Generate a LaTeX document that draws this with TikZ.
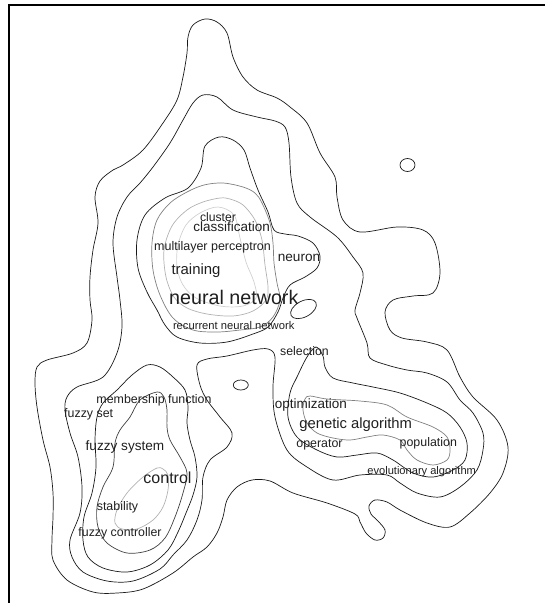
\documentclass[tikz,border=0pt]{standalone}
\usepackage{fontspec}
\setmainfont{Liberation Sans}
\usepackage{tikz}
\tikzstyle{outerline} = [line width=0.7pt, black!90]
\tikzstyle{midline} = [line width=0.7pt, black!75]
\tikzstyle{grayline} = [line width=0.7pt, black!50]
\tikzstyle{lightline} = [line width=0.7pt, black!30]
\tikzstyle{paleline} = [line width=0.7pt, black!18]
\tikzstyle{keyword} = [inner sep=0pt, anchor=base, text=black!88]
\newcommand{\kwsize}[1]{\fontsize{#1}{#1}\selectfont}

\begin{document}
\begin{tikzpicture}[x=1pt, y=-1pt]
      \useasboundingbox (0,0) rectangle (545,603);

      % Frame
      \draw[line width=2.2pt] (9,603) -- (9,5) -- (545,5);

      % Outermost density level
      \draw[outerline] plot[smooth cycle, tension=0.55] coordinates {
        (205,19) (217,22) (227,33) (233,57) (243,77) (257,90) (277,98) (290,107)
        (307,123) (320,153) (335,177) (337,197) (343,220) (360,232) (397,227)
        (423,230) (435,243) (440,273) (433,293) (413,296) (393,300) (385,312)
        (390,330) (402,338) (427,342) (447,350) (460,377) (473,397) (497,420)
        (508,447) (503,473) (490,493) (470,513) (450,527) (427,523) (400,510)
        (387,502) (375,500) (369,506) (371,514) (378,521) (385,530) (383,538)
        (375,540) (366,533) (360,522) (355,514) (327,503) (293,493) (270,481)
        (252,480) (237,487) (227,500) (223,517) (217,533) (207,547) (193,557)
        (173,573) (143,589) (117,593) (93,592) (67,580) (53,560) (52,540)
        (53,517) (53,493) (50,467) (43,440) (37,407) (35,383) (37,367) (47,360)
        (73,353) (87,343) (92,320) (90,300) (90,277) (93,250) (98,223) (95,197)
        (100,181) (113,170) (123,165) (143,150) (163,123) (177,100) (183,77)
        (187,53) (188,37) (193,25)};
      \draw[outerline] (407.5,165) ellipse[x radius=7.5, y radius=6.5];
      \draw[outerline] (240.8,385) ellipse[x radius=7.5, y radius=5];

      % Second level, around all three clusters
      \draw[outerline] plot[smooth cycle, tension=0.55] coordinates {
        (203,95) (217,97) (233,110) (257,117) (275,121) (285,127) (289,143)
        (291,177) (297,203) (310,217) (337,237) (353,257) (363,273) (360,293)
        (355,310) (357,318) (367,343) (370,358) (387,365) (407,370) (427,373)
        (447,382) (460,400) (473,413) (483,433) (483,450) (477,470) (460,487)
        (440,497) (417,493) (400,483) (387,475) (360,475) (333,480) (307,467)
        (287,450) (275,417) (273,387) (275,357) (268,349) (253,350) (227,356)
        (207,359) (197,365) (200,385) (207,400) (220,417) (232,433) (227,447)
        (210,460) (203,477) (202,500) (197,520) (187,540) (173,555) (160,569)
        (133,581) (107,581) (83,572) (72,557) (70,540) (80,513) (82,487)
        (78,457) (70,433) (65,410) (67,397) (77,387) (103,377) (117,353)
        (122,327) (120,300) (117,277) (113,243) (117,217) (127,197) (140,183)
        (153,167) (170,143) (183,120) (193,103)};
      \draw[outerline, rotate around={28:(303.5,309)}] (303.5,309) ellipse[x radius=14, y radius=8];

      % Neural network cluster
      \draw[outerline] plot[smooth cycle, tension=0.55] coordinates {
        (219,137) (205,146) (201,168) (188,188) (165,198) (145,215) (137,240)
        (138,268) (147,292) (157,310) (165,325) (177,337) (200,343) (227,342)
        (253,334) (268,327) (278,312) (283,298) (290,285) (305,277) (317,268)
        (320,256) (313,243) (298,236) (285,234) (274,230) (268,212) (258,190)
        (250,168) (244,150) (233,140)};
      \draw[grayline] plot[smooth cycle, tension=0.55] coordinates {
        (223,183) (204,185) (187,192) (170,203) (157,220) (152,243) (153,270)
        (160,295) (173,318) (193,330) (217,332) (240,330) (260,327) (273,317)
        (280,300) (277,283) (274,263) (273,243) (270,223) (262,203) (255,193)
        (243,187)};
      \draw[lightline] plot[smooth cycle, tension=0.55] coordinates {
        (220,198) (203,202) (187,210) (172,226) (164,250) (166,277) (174,297)
        (187,308) (207,314) (233,316) (253,311) (266,300) (268,287) (265,265)
        (262,240) (255,220) (243,205) (230,199)};
      \draw[paleline] plot[smooth cycle, tension=0.55] coordinates {
        (218,207) (200,213) (186,225) (178,245) (177,267) (183,285) (196,298)
        (220,306) (243,306) (256,298) (254,282) (246,262) (240,238) (234,215)};

      % Fuzzy cluster
      \draw[outerline] plot[smooth cycle, tension=0.55] coordinates {
        (147,365) (132,375) (117,390) (103,403) (97,417) (95,440) (96,467)
        (92,493) (84,517) (83,540) (88,557) (103,568) (127,572) (150,565)
        (168,550) (178,532) (186,513) (193,495) (197,477) (195,457) (190,440)
        (187,423) (188,407) (185,390) (173,377) (160,367)};
      \draw[midline] plot[smooth cycle, tension=0.55] coordinates {
        (157,392) (140,400) (130,417) (120,430) (115,443) (113,467) (103,487)
        (97,507) (98,527) (107,543) (127,553) (150,550) (165,538) (175,517)
        (183,493) (187,473) (180,457) (170,440) (167,427) (167,410) (164,397)};
      \draw[lightline] plot[smooth cycle, tension=0.55] coordinates {
        (157,468) (143,477) (127,493) (117,510) (115,523) (122,529) (137,529)
        (153,520) (163,507) (168,490) (168,475) (163,469)};

      % Genetic algorithm cluster
      \draw[outerline] plot[smooth cycle, tension=0.55] coordinates {
        (316,347) (323,356) (325,367) (333,378) (353,383) (373,387) (400,393)
        (427,403) (447,413) (460,427) (467,443) (465,460) (453,470) (433,477)
        (413,473) (393,460) (377,453) (357,455) (337,457) (317,450) (297,437)
        (288,417) (290,393) (297,377) (307,357)};
      \draw[grayline] plot[smooth cycle, tension=0.55] coordinates {
        (310,396) (327,399) (360,401) (387,405) (407,417) (433,427) (447,437)
        (450,450) (447,460) (433,465) (417,460) (407,450) (400,440) (383,435)
        (367,437) (350,440) (333,438) (317,433) (307,423) (303,410) (305,399)};

      % Keywords
      \node[keyword] (cluster) at (218,221.7) {\kwsize{12.2}cluster};
      \node[keyword] (classification) at (231.7,231.5) {\kwsize{13.5}classification};
      \node[keyword] (mlp) at (212.5,250.8) {\kwsize{12.5}multilayer perceptron};
      \node[keyword] (neuron) at (299,261) {\kwsize{13.6}neuron};
      \node[keyword] (training) at (196,274.5) {\kwsize{14.9}training};
      \node[keyword] (nn) at (233.8,304) {\kwsize{19.7}neural network};
      \node[keyword] (rnn) at (233.7,329) {\kwsize{11.2}recurrent neural network};
      \node[keyword] (selection) at (304.5,355.7) {\kwsize{12.3}selection};
      \node[keyword] (membership) at (154,403.7) {\kwsize{12.4}membership function};
      \node[keyword] (fuzzyset) at (88.7,417.7) {\kwsize{12.4}fuzzy set};
      \node[keyword] (fuzzysystem) at (125,450.6) {\kwsize{13.6}fuzzy system};
      \node[keyword] (control) at (167.5,483.8) {\kwsize{16}control};
      \node[keyword] (stability) at (117.5,510.2) {\kwsize{12.4}stability};
      \node[keyword] (controller) at (120,536.7) {\kwsize{12.35}fuzzy controller};
      \node[keyword] (optimization) at (310.8,408.4) {\kwsize{13.5}optimization};
      \node[keyword] (ga) at (355.7,428.7) {\kwsize{14.8}genetic algorithm};
      \node[keyword] (operator) at (319.5,447.7) {\kwsize{12.4}operator};
      \node[keyword] (population) at (428.3,446.4) {\kwsize{12.4}population};
      \node[keyword] (ea) at (421.7,474.3) {\kwsize{11.1}evolutionary algorithm};
\end{tikzpicture}
\end{document}
